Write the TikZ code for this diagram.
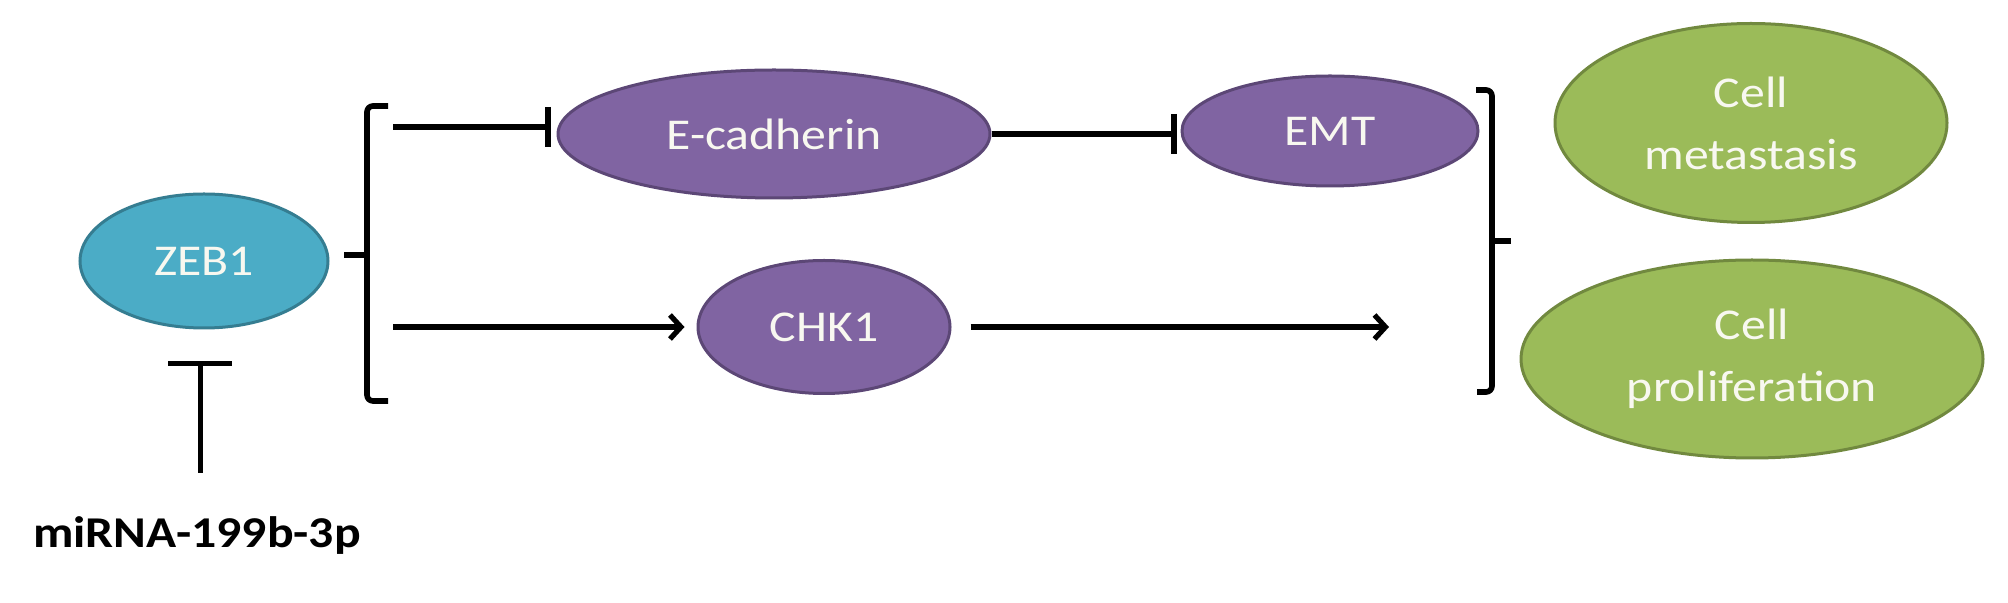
\documentclass[tikz,border=0pt]{standalone}
\usepackage{fontspec}
\setmainfont{Carlito}[FakeStretch=1.13]
\usetikzlibrary{shapes.geometric,arrows.meta}
\definecolor{tealfill}{HTML}{4BACC6}
\definecolor{tealline}{HTML}{357D91}
\definecolor{purpfill}{HTML}{8064A2}
\definecolor{purpline}{HTML}{5C4776}
\definecolor{greenfill}{HTML}{9BBB59}
\definecolor{greenline}{HTML}{71893F}
\definecolor{offwhite}{HTML}{F8F8F0}
\tikzset{
  blob/.style={ellipse, inner sep=0pt, line width=1.5pt, text=offwhite, align=center,
    font=\fontsize{22}{31}\selectfont},
  tealblob/.style={blob, fill=tealfill, draw=tealline},
  purpblob/.style={blob, fill=purpfill, draw=purpline},
  greenblob/.style={blob, fill=greenfill, draw=greenline},
  inh/.style={line width=3pt, -{Bar[width=20pt,line width=3pt]}},
  act/.style={line width=3pt, -{Straight Barb[length=5.5pt,width=12pt,line width=2.6pt]}},
  brk/.style={line width=2.8pt, rounded corners=3pt},
}
\begin{document}
\begin{tikzpicture}[x=0.5pt,y=-0.5pt]
\useasboundingbox (0,0) rectangle (2008,603);
% nodes
\node[tealblob, minimum width=124pt, minimum height=67pt] (zeb) at (204,261) {ZEB1};
\node[purpblob, minimum width=216pt, minimum height=64pt] (ecad) at (774,134) {E-cadherin};
\node[purpblob, minimum width=126pt, minimum height=66.5pt] (chk) at (824,327) {CHK1};
\node[purpblob, minimum width=148pt, minimum height=55pt] (emt) at (1330,131) {EMT};
\node[greenblob, minimum width=196pt, minimum height=99.5pt] (meta) at (1751,123) {Cell\\metastasis};
\node[greenblob, minimum width=231pt, minimum height=99pt] (prol) at (1752,359) {Cell\\proliferation};
\node[anchor=base, font=\fontsize{22}{26}\selectfont\bfseries] (mir) at (197,548) {miRNA-199b-3p};
% free ends
\coordinate (lt) at (393,127);
\coordinate (lb) at (393,327);
\coordinate (rb) at (1389,327);
\coordinate (tbot) at (200,473);
\coordinate (ttop) at (200,361);
% brackets
\draw[brk] (388,106) -- (367,106) -- (367,401) -- (388,401);
\draw[line width=2.8pt] (367,255) -- (344,255);
\draw[brk] (1476,90) -- (1492,90) -- (1492,392) -- (1477,392);
\draw[line width=2.8pt] (1492,241) -- (1511,241);
% connectors
\draw[inh, shorten >=3pt] (lt) -- (lt -| ecad.west);
\draw[inh, shorten >=2pt] (ecad.east) -- (ecad.east -| emt.west);
\draw[act, shorten >=6pt] (lb) -- (chk.west);
\draw[act, shorten <=9.5pt] (chk.east) -- (rb);
\draw[line width=2.5pt, -{Bar[width=32pt,line width=2.5pt]}] (tbot) -- (ttop);
\end{tikzpicture}
\end{document}
